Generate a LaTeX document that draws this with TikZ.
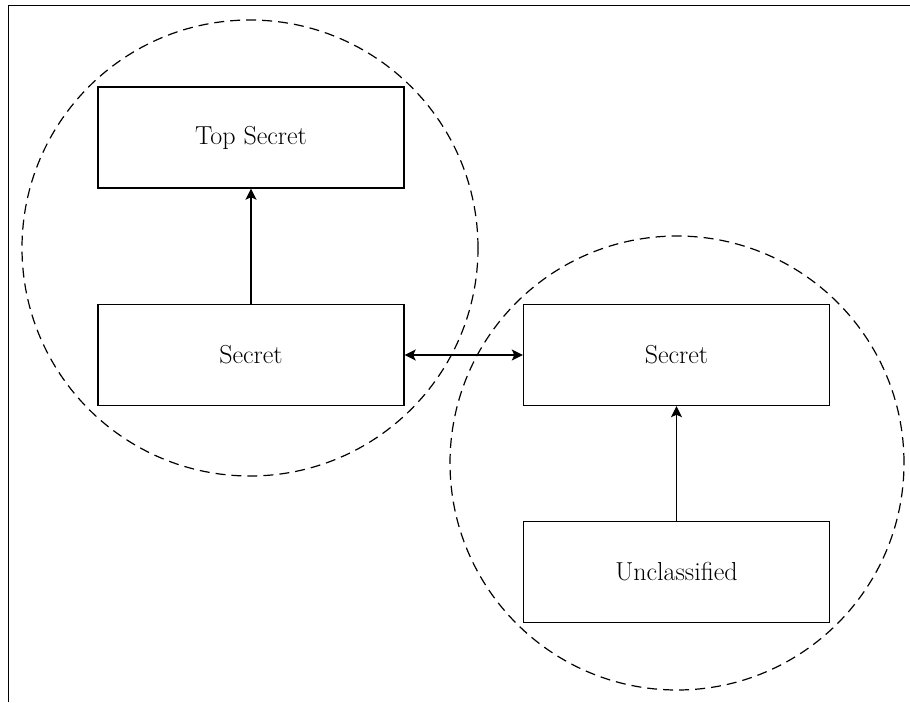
\documentclass[tikz,border=0pt]{standalone}
\usepackage{fontspec}
\usepackage{tikz}
\usetikzlibrary{arrows.meta}
\tikzstyle{level} = [draw, line width=1.4pt, minimum width=306pt, minimum height=101pt, font=\fontsize{26}{30}\selectfont]
\tikzstyle{flow} = [line width=1.3pt,->,>={Stealth[length=11pt,width=11pt,inset=2.5pt]}]
\tikzstyle{realm} = [line width=1.2pt, dash pattern=on 10pt off 6pt]

\begin{document}
\begin{tikzpicture}[x=1pt,y=-1pt]
	\useasboundingbox (0,0) rectangle (910,702);

	% Frame:
	\draw [line width=1pt] (8,702) -- (8,5) -- (910,5);

	% Realms:
	\draw [realm] (250,248) circle (228pt);
	\draw [realm] (677,463) circle (227pt);

	% Levels:
	\node [level] (ts)   at (251,137.5) {Top Secret};
	\node [level] (secL) at (251,355)   {Secret};
	\node [level] (secR) at (676.5,355) {Secret};
	\node [level] (uncl) at (676.5,572) {Unclassified};

	\draw [flow] (secL) -- (ts);
	\draw [flow] (uncl) -- (secR);
	\draw [flow,<->] (secL) -- (secR);
\end{tikzpicture}
\end{document}
